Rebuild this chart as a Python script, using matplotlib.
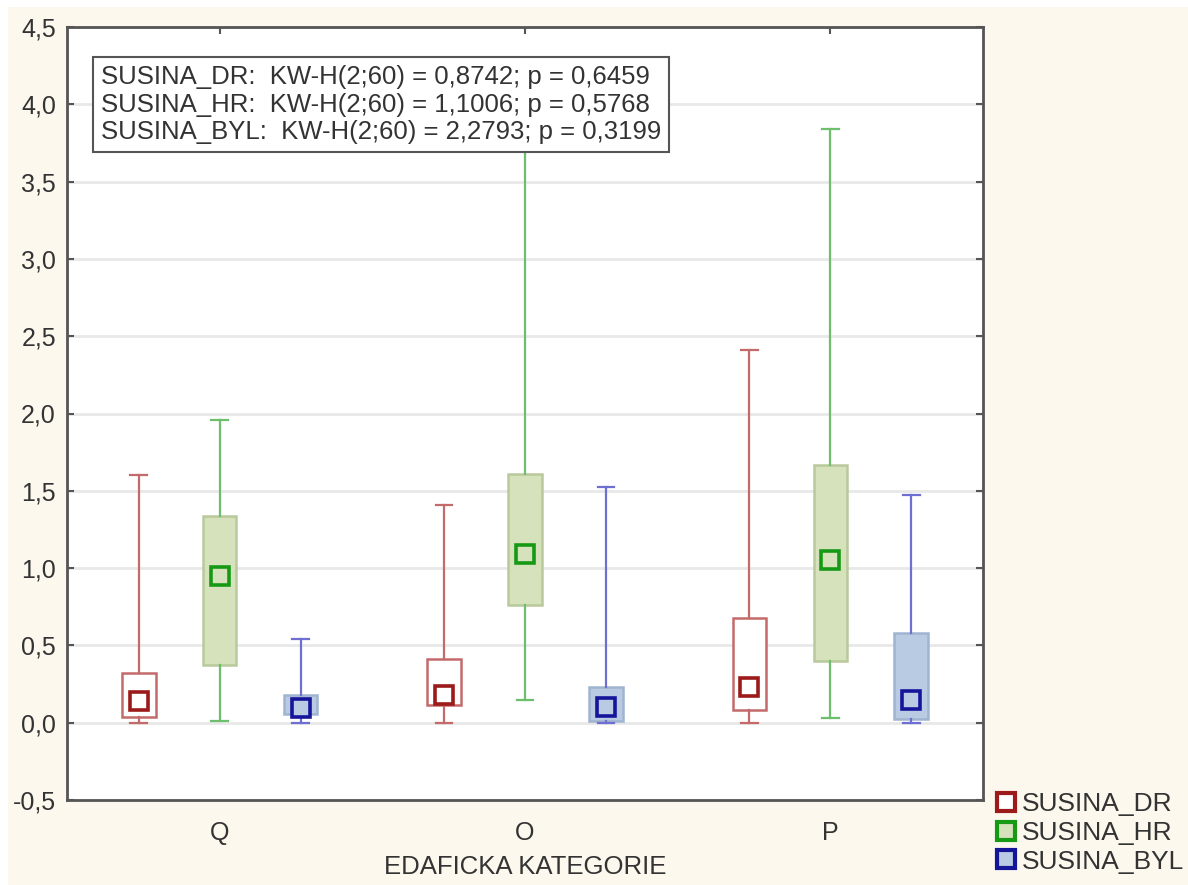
import matplotlib.pyplot as plt
from matplotlib.lines import Line2D
from matplotlib.patches import Rectangle
from matplotlib.ticker import FuncFormatter

plt.rcParams["font.family"] = ["Liberation Sans", "DejaVu Sans"]

categories = ["Q", "O", "P"]
series = ["SUSINA_DR", "SUSINA_HR", "SUSINA_BYL"]

# min, q1, median, q3, max per category
dr_min = [0.0, 0.0, 0.0]
dr_q1 = [0.035, 0.116, 0.08]
dr_med = [0.14, 0.18, 0.23]
dr_q3 = [0.32, 0.41, 0.68]
dr_max = [1.60, 1.41, 2.41]

hr_min = [0.01, 0.147, 0.03]
hr_q1 = [0.37, 0.76, 0.40]
hr_med = [0.95, 1.09, 1.05]
hr_q3 = [1.34, 1.61, 1.67]
hr_max = [1.96, 4.00, 3.84]

byl_min = [0.0, 0.0, 0.0]
byl_q1 = [0.056, 0.008, 0.024]
byl_med = [0.095, 0.10, 0.147]
byl_q3 = [0.18, 0.233, 0.58]
byl_max = [0.54, 1.525, 1.47]

kw_lines = [
    "SUSINA_DR:  KW-H(2;60) = 0,8742; p = 0,6459",
    "SUSINA_HR:  KW-H(2;60) = 1,1006; p = 0,5768",
    "SUSINA_BYL:  KW-H(2;60) = 2,2793; p = 0,3199",
]

styles = [
    dict(face="white", edge="#c46a6a", whisk="#c46a6a", mark="#9c1a1a"),
    dict(face="#d6e2bc", edge="#b9c99c", whisk="#6dbf6d", mark="#169a16"),
    dict(face="#b8cbe2", edge="#9fb4d0", whisk="#6f6fd2", mark="#15159a"),
]
data = [
    (dr_min, dr_q1, dr_med, dr_q3, dr_max),
    (hr_min, hr_q1, hr_med, hr_q3, hr_max),
    (byl_min, byl_q1, byl_med, byl_q3, byl_max),
]
offsets = [-0.265, 0.0, 0.265]

fig = plt.figure(figsize=(11.88, 8.85), dpi=100, facecolor="white")
fig.patches.append(Rectangle((8 / 1188, 0), 1, 1 - 7 / 885, transform=fig.transFigure,
                             facecolor="#fdf8ee", edgecolor="none", zorder=-10))
ax = fig.add_axes([67 / 1188, 1 - 800 / 885, 916 / 1188, 773 / 885])
ax.set_facecolor("white")

for grid_y in [-0.5, 0, 0.5, 1, 1.5, 2, 2.5, 3, 3.5, 4, 4.5]:
    ax.axhline(grid_y, color="#e8e8e8", lw=2, zorder=0)

for (lo, q1, med, q3, hi), st, off in zip(data, styles, offsets):
    stats = []
    for i in range(len(categories)):
        stats.append(dict(whislo=lo[i], q1=q1[i], med=med[i], q3=q3[i], whishi=hi[i]))
    pos = [i + off for i in range(len(categories))]
    ax.bxp(stats, positions=pos, widths=0.11, capwidths=0.055, patch_artist=True,
           showfliers=False,
           boxprops=dict(facecolor=st["face"], edgecolor=st["edge"], lw=1.8),
           whiskerprops=dict(color=st["whisk"], lw=1.6),
           capprops=dict(color=st["whisk"], lw=1.6),
           medianprops=dict(lw=0))
    ax.plot(pos, med, ls="none", marker="s", ms=12.5, mfc=st["face"], mec=st["mark"],
            mew=2.6, zorder=5)

ax.set_xlim(-0.5, 2.5)
ax.set_ylim(-0.5, 4.5)
ax.set_yticks([-0.5, 0, 0.5, 1, 1.5, 2, 2.5, 3, 3.5, 4, 4.5])
ax.yaxis.set_major_formatter(FuncFormatter(lambda v, p: f"{v:.1f}".replace(".", ",")))
ax.set_xticks(range(len(categories)))
ax.set_xticklabels(categories)
ax.tick_params(axis="y", labelsize=18, labelcolor="#333333", length=5, width=1.5,
               color="#555555", pad=8, right=True, direction="in")
ax.tick_params(axis="x", labelsize=18, labelcolor="#333333", length=5, width=1.5,
               color="#555555", pad=15, top=True, bottom=False, direction="in")
for side in ["left", "right", "top", "bottom"]:
    ax.spines[side].set_color("#555555")
    ax.spines[side].set_linewidth(2)
ax.set_xlabel("EDAFICKA KATEGORIE", fontsize=18.5, color="#333333", labelpad=7)

ax.text(0.037, 0.951, "\n".join(kw_lines), transform=ax.transAxes, fontsize=18.5,
        color="#333333", va="top", ha="left", linespacing=1.2, zorder=10,
        bbox=dict(boxstyle="square,pad=0.3", facecolor="white", edgecolor="#555555", lw=1.5))

handles = [Line2D([], [], ls="none", marker="s", ms=12.5, mfc=st["face"], mec=st["mark"], mew=3)
           for st in styles]
fig.legend(handles, series, loc="upper left", bbox_to_anchor=(995 / 1188, 1 - 792 / 885),
           frameon=False, fontsize=19, handletextpad=0.2, labelspacing=0.18,
           borderaxespad=0, handlelength=0.8, borderpad=0, labelcolor="#333333")

fig.savefig("out.png", dpi=100, facecolor=fig.get_facecolor())
